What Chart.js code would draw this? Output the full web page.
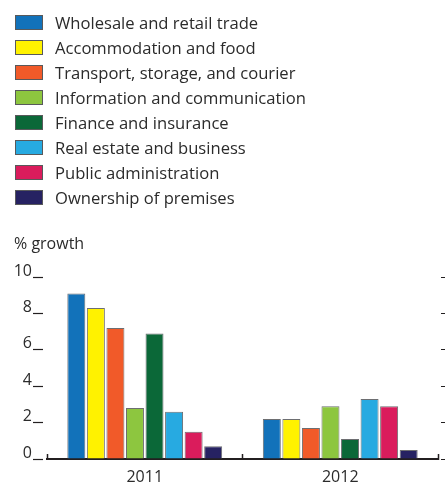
<!DOCTYPE html>
<html>
<head>
<meta charset="utf-8">
<script src="https://cdn.jsdelivr.net/npm/chart.js@4"></script>
<style>
  html, body { margin: 0; padding: 0; background: #fff; }
  #wrap { position: relative; width: 445px; height: 485px; }
  #legend { position: absolute; left: 15px; top: 10px; font-family: 'Open Sans', sans-serif; font-size: 16.6px; color: #2b2b2b; }
  .row { height: 25px; line-height: 25px; white-space: nowrap; position: relative; }
  .box { position: absolute; left: 0; top: 5px; width: 28px; height: 15px; box-sizing: border-box; border: 1px solid #58595b; }
  .lbl { position: absolute; left: 40px; top: 0; }
  canvas { position: absolute; left: 0; top: 0; }
</style>
</head>
<body>
<div id="wrap">
  <canvas id="chart" width="445" height="485"></canvas>
  <div id="legend"></div>
</div>
<script>
const years = ['2011', '2012']
const sectors = [
  'Wholesale and retail trade',
  'Accommodation and food',
  'Transport, storage, and courier',
  'Information and communication',
  'Finance and insurance',
  'Real estate and business',
  'Public administration',
  'Ownership of premises'
]
const colors = ['#1272ba', '#fff200', '#f15a29', '#8dc63f', '#0b6838', '#27aae1', '#da1c5c', '#262262']
const growth2011 = [9.1, 8.3, 7.2, 2.8, 6.9, 2.6, 1.5, 0.7]
const growth2012 = [2.2, 2.2, 1.7, 2.9, 1.1, 3.3, 2.9, 0.5]
const yTicks = [0, 2, 4, 6, 8, 10]

const textColor = '#2b2b2b'
const lineColor = '#231f20'
const font = { family: 'Open Sans', size: 16, weight: 'normal' }

// legend, one sector per line
const legendEl = document.getElementById('legend')
sectors.forEach((name, i) => {
  const row = document.createElement('div')
  row.className = 'row'
  row.innerHTML = '<span class="box" style="background:' + colors[i] + '"></span><span class="lbl"></span>'
  row.querySelector('.lbl').textContent = name
  legendEl.appendChild(row)
})

const datasets = sectors.map((name, i) => ({
  label: name,
  data: [growth2011[i], growth2012[i]],
  backgroundColor: colors[i],
  borderColor: '#6d6e71',
  borderWidth: 1
}))

const chart = new Chart(document.getElementById('chart').getContext('2d'), {
  type: 'bar',
  data: { labels: years, datasets: datasets },
  options: {
    responsive: false,
    animation: false,
    layout: { padding: { left: 14, right: 0, top: 0, bottom: 0 } },
    datasets: {
      bar: { barPercentage: 0.92, categoryPercentage: 0.8 }
    },
    plugins: {
      legend: { display: false },
      tooltip: { enabled: false },
      title: {
        display: true,
        text: '% growth',
        align: 'start',
        color: textColor,
        font: font,
        padding: { top: 235, bottom: 23 }
      }
    },
    scales: {
      x: {
        border: { color: lineColor, width: 2 },
        grid: { drawOnChartArea: false, tickLength: -5, color: lineColor, tickWidth: 1.5 },
        ticks: { padding: 14, color: textColor, font: font },
        afterFit: (scale) => { scale.height = 26 }
      },
      y: {
        min: 0,
        max: 10,
        border: { display: false },
        grid: { drawOnChartArea: false, tickLength: 14, tickBorderDash: [10, 4], color: lineColor, tickWidth: 1.2 },
        afterBuildTicks: (scale) => { scale.ticks = yTicks.map(v => ({ value: v })) },
        ticks: { padding: 1, labelOffset: -6, color: textColor, font: font },
        afterFit: (scale) => { scale.width = 33 }
      },
      y2: {
        position: 'right',
        min: 0,
        max: 10,
        border: { display: false },
        grid: { drawOnChartArea: false, tickLength: 7, tickBorderDash: [0, 3, 4, 10], color: lineColor, tickWidth: 1.2 },
        afterBuildTicks: (scale) => { scale.ticks = yTicks.map(v => ({ value: v })) },
        ticks: { display: false },
        afterFit: (scale) => { scale.width = 7 }
      }
    }
  }
})
</script>
</body>
</html>
